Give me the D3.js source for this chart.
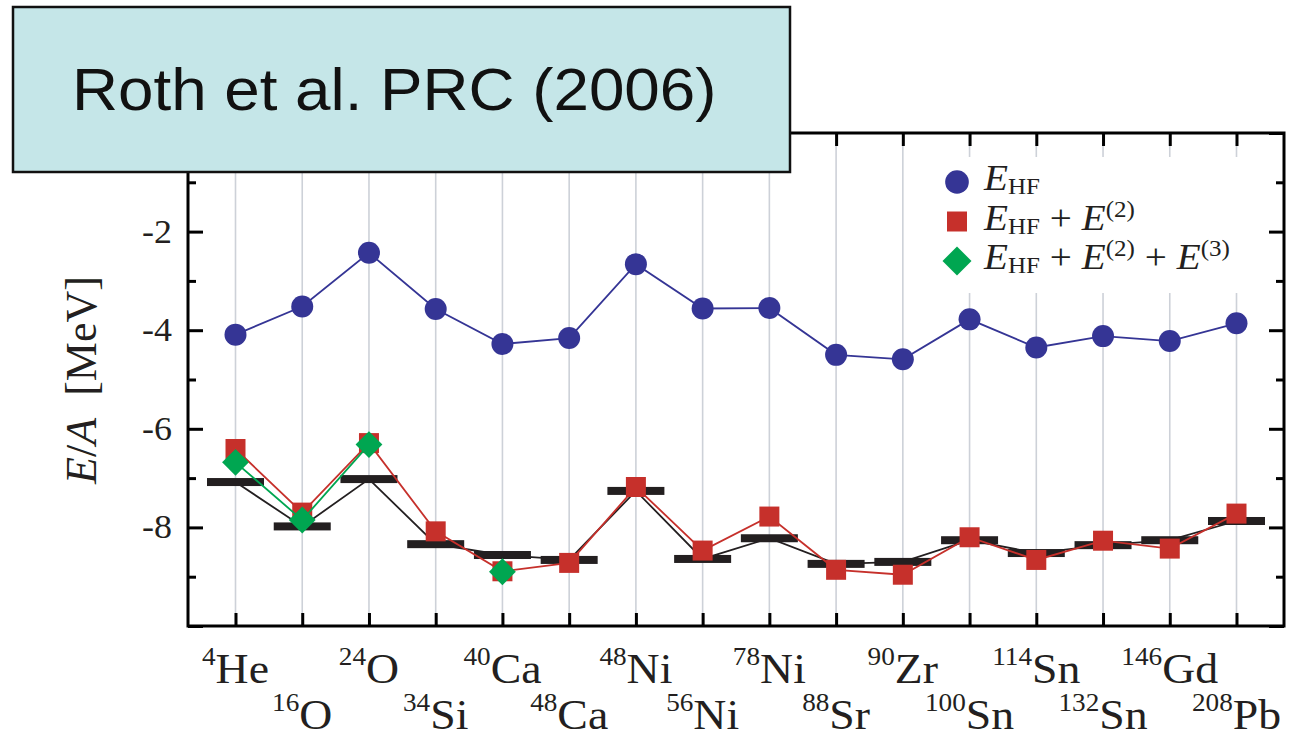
<!DOCTYPE html>
<html>
<head>
<meta charset="utf-8">
<script src="https://cdnjs.cloudflare.com/ajax/libs/d3/7.8.5/d3.min.js"></script>
<style>
body, html {
    margin: 0;
    padding: 0;
    background: #fff;
}
.grid {
  stroke: #cdd1d8;
  stroke-width: 1.6;
}
.tick line {
  stroke: #000;
  stroke-width: 3;
}
.frame {
  fill: none;
  stroke: #000;
  stroke-width: 3;
}
.serif {
  font-family: "Liberation Serif", "Times New Roman", serif;
  fill: #231f20;
}
</style>
</head>

<body>
<div id="chart"></div>
<script>

// nuclei along the x axis
var massNumbers = ["4", "16", "24", "34", "40", "48", "48", "56", "78", "88", "90", "100", "114", "132", "146", "208"];
var elements = ["He", "O", "O", "Si", "Ca", "Ca", "Ni", "Ni", "Ni", "Sr", "Zr", "Sn", "Sn", "Sn", "Gd", "Pb"];

// energies per nucleon [MeV]
var eHF = [-4.09, -3.52, -2.43, -3.57, -4.28, -4.16, -2.66, -3.56, -3.55, -4.50, -4.59, -3.78, -4.35, -4.12, -4.22, -3.86];
var eHF2 = [-6.41, -7.70, -6.29, -8.08, -8.89, -8.72, -7.18, -8.47, -7.78, -8.86, -8.96, -8.20, -8.66, -8.27, -8.43, -7.72];
var eHF23 = [-6.68, -7.85, -6.32, null, -8.90, null, null, null, null, null, null, null, null, null, null, null];
var eExp = [-7.08, -7.98, -7.02, -8.34, -8.56, -8.66, -7.26, -8.64, -8.22, -8.74, -8.70, -8.26, -8.52, -8.36, -8.26, -7.87];

var yMajor = [-10, -8, -6, -4, -2, 0];
var yMinor = [-9, -7, -5, -3, -1];
var yLabels = [-2, -4, -6, -8];

var legendLabels = [
  [{t: "E", it: 1}, {t: "HF", sub: 1}],
  [{t: "E", it: 1}, {t: "HF", sub: 1}, {t: " + "}, {t: "E", it: 1}, {t: "(2)", sup: 1}],
  [{t: "E", it: 1}, {t: "HF", sub: 1}, {t: " + "}, {t: "E", it: 1}, {t: "(2)", sup: 1}, {t: " + "}, {t: "E", it: 1}, {t: "(3)", sup: 1}]
];

var width = 1305, height = 740;
var plotL = 188, plotR = 1284, plotT = 133, plotB = 626;
var stretch = 1.09;   // the original slide is slightly wide

var blue = "#353595", red = "#c6302b", green = "#00a651", black = "#231f20";

var svg = d3.select("#chart").append("svg")
  .attr("width", width)
  .attr("height", height);

var x = d3.scaleLinear().domain([0, 15]).range([235.5, 1236.5]);
var y = d3.scaleLinear().domain([-10, 0]).range([plotB, plotT]);
var idx = d3.range(massNumbers.length);

// vertical grid lines
svg.append("g").selectAll("line")
  .data(idx).enter().append("line")
  .attr("class", "grid")
  .attr("x1", function(i) { return x(i); })
  .attr("x2", function(i) { return x(i); })
  .attr("y1", plotT)
  .attr("y2", plotB);

// white legend background hides the grid
svg.append("rect")
  .attr("x", 925).attr("y", 157)
  .attr("width", 340).attr("height", 136)
  .attr("fill", "#fff");

// axes, ticks inward
svg.append("g").attr("transform", "translate(" + plotL + ",0)")
  .call(d3.axisLeft(y).tickValues(yMajor).tickSize(-15).tickFormat(""));
svg.append("g").attr("transform", "translate(" + plotL + ",0)")
  .call(d3.axisLeft(y).tickValues(yMinor).tickSize(-8).tickFormat(""));
svg.append("g").attr("transform", "translate(" + plotR + ",0)")
  .call(d3.axisRight(y).tickValues(yMajor).tickSize(-15).tickFormat(""));
svg.append("g").attr("transform", "translate(" + plotR + ",0)")
  .call(d3.axisRight(y).tickValues(yMinor).tickSize(-8).tickFormat(""));
svg.append("g").attr("transform", "translate(0," + plotB + ")")
  .call(d3.axisBottom(x).tickValues(idx).tickSize(-13).tickFormat(""));
svg.append("g").attr("transform", "translate(0," + plotT + ")")
  .call(d3.axisTop(x).tickValues(idx).tickSize(-13).tickFormat(""));
svg.selectAll(".domain").remove();

svg.append("rect")
  .attr("class", "frame")
  .attr("x", plotL).attr("y", plotT)
  .attr("width", plotR - plotL).attr("height", plotB - plotT);

// y tick labels
svg.append("g").selectAll("text")
  .data(yLabels).enter().append("text")
  .attr("class", "serif")
  .attr("transform", function(d) { return "translate(172," + (y(d) + 11) + ") scale(" + stretch + ",1)"; })
  .attr("text-anchor", "end")
  .style("font-size", "33px")
  .text(function(d) { return d; });

// y axis title
var yt = svg.append("text")
  .attr("class", "serif")
  .attr("transform", "translate(96,380) rotate(-90)")
  .attr("text-anchor", "middle")
  .style("font-size", "44px")
  .style("white-space", "pre");
yt.append("tspan").style("font-style", "italic").text("E");
yt.append("tspan").text("/");
yt.append("tspan").style("font-style", "italic").text("A");
yt.append("tspan").text("  [MeV]");

// nucleus labels in two rows
var xl = svg.append("g").selectAll("text")
  .data(idx).enter().append("text")
  .attr("class", "serif")
  .attr("text-anchor", "middle")
  .attr("transform", function(i) {
    return "translate(" + x(i) + "," + (i % 2 ? 729 : 683) + ") scale(" + stretch + ",1)";
  });
xl.append("tspan").style("font-size", "25px").attr("dy", -18)
  .text(function(i) { return massNumbers[i]; });
xl.append("tspan").style("font-size", "42px").attr("dy", 18)
  .text(function(i) { return elements[i]; });

// experiment: black bars joined by a thin line
var line = d3.line()
  .defined(function(d) { return d != null; })
  .x(function(d, i) { return x(i); })
  .y(function(d) { return y(d); });

svg.append("path").datum(eExp)
  .attr("d", line).attr("fill", "none")
  .attr("stroke", black).attr("stroke-width", 1.8);
svg.append("g").selectAll("rect")
  .data(eExp).enter().append("rect")
  .attr("x", function(d, i) { return x(i) - 28.5; })
  .attr("y", function(d) { return y(d) - 4; })
  .attr("width", 57).attr("height", 8)
  .attr("fill", black);

function series(values, color, shape, size, rot) {
  svg.append("path").datum(values)
    .attr("d", line).attr("fill", "none")
    .attr("stroke", color).attr("stroke-width", 1.8);
  svg.append("g").selectAll("path")
    .data(values.map(function(d, i) { return [i, d]; }).filter(function(p) { return p[1] != null; }))
    .enter().append("path")
    .attr("d", d3.symbol().type(shape).size(size))
    .attr("transform", function(p) { return "translate(" + x(p[0]) + "," + y(p[1]) + ") rotate(" + rot + ")"; })
    .attr("fill", color);
}

series(eHF2, red, d3.symbolSquare, 400, 0);
series(eHF23, green, d3.symbolSquare, 360, 45);
series(eHF, blue, d3.symbolCircle, 380, 0);

// legend
var legendSym = [[d3.symbolCircle, blue, 440, 0], [d3.symbolSquare, red, 400, 0], [d3.symbolSquare, green, 420, 45]];
legendLabels.forEach(function(parts, k) {
  var ly = 182 + k * 39.5;
  svg.append("path")
    .attr("d", d3.symbol().type(legendSym[k][0]).size(legendSym[k][2]))
    .attr("transform", "translate(957," + ly + ") rotate(" + legendSym[k][3] + ")")
    .attr("fill", legendSym[k][1]);
  var t = svg.append("text")
    .attr("class", "serif")
    .attr("transform", "translate(984," + (ly + 8) + ") scale(" + stretch + ",1)")
    .style("font-size", "36px")
    .style("white-space", "pre");
  var shift = 0;
  parts.forEach(function(p) {
    var target = p.sub ? 4 : (p.sup ? -13 : 0);
    var ts = t.append("tspan").attr("dy", target - shift).text(p.t);
    shift = target;
    if (p.it) ts.style("font-style", "italic");
    if (p.sub || p.sup) ts.style("font-size", "23px");
  });
});

// reference box
svg.append("rect")
  .attr("x", 13).attr("y", 7)
  .attr("width", 777).attr("height", 165)
  .attr("fill", "#c5e6e8")
  .attr("stroke", "#111").attr("stroke-width", 2.5);
svg.append("text")
  .attr("transform", "translate(72,110) scale(1.08,1)")
  .style("font-family", "'Liberation Sans', Arial, sans-serif")
  .style("font-size", "59px")
  .attr("fill", "#111")
  .text("Roth et al. PRC (2006)");

</script>

</body>
</html>
